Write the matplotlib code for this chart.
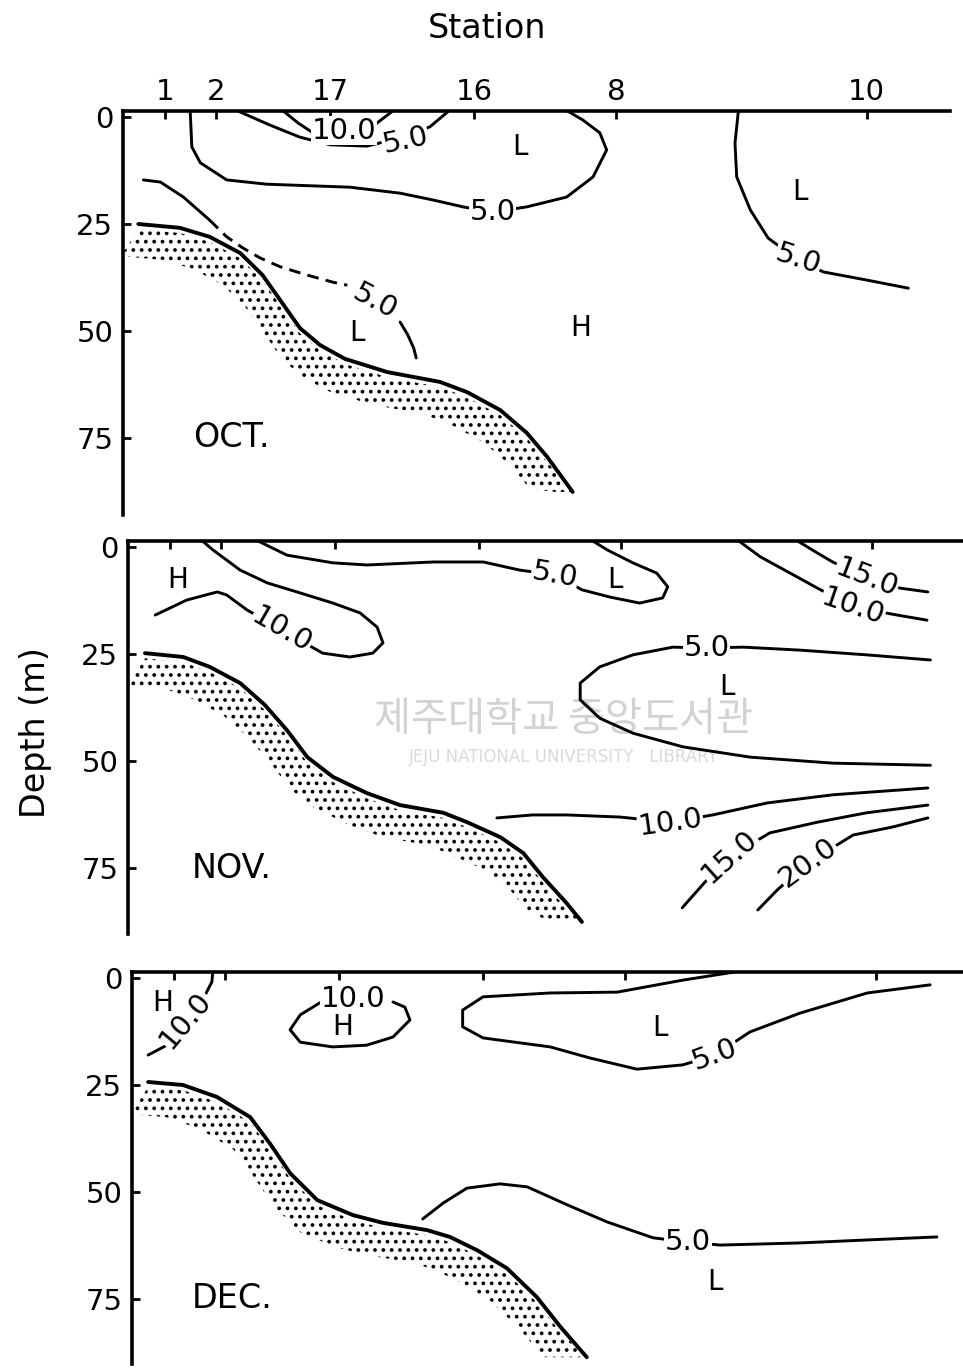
import numpy as np
import matplotlib
matplotlib.use('Agg')
from matplotlib import pyplot as plt

plt.rcParams['font.family'] = ['DejaVu Sans']
plt.rcParams['hatch.linewidth'] = 1.5

# station positions along the section (arbitrary distance units)
stations = ['1', '2', '17', '16', '8', '10']
station_x = [4.9, 10.9, 24.4, 41.3, 58.0, 87.5]
depth_ticks = [0, 25, 50, 75]
months = ['OCT.', 'NOV.', 'DEC.']

# sea bottom profiles (distance, depth m)
oct_bottom = [(1.8, 25.0), (6.7, 25.9), (10.2, 28.0), (13.8, 31.8), (16.4, 36.9),
              (18.5, 42.8), (20.8, 49.3), (23.2, 53.3), (26.1, 56.5), (31.1, 59.6),
              (37.3, 61.9), (40.5, 64.3), (44.4, 68.5), (47.5, 73.8), (49.9, 79.4),
              (52.9, 87.6)]
nov_bottom = [(2.0, 24.8), (6.5, 25.7), (9.6, 28.0), (13.2, 31.8), (16.1, 36.9),
              (18.7, 42.8), (21.1, 49.1), (24.1, 53.7), (28.1, 57.5), (32.0, 60.3),
              (37.1, 62.1), (39.9, 64.3), (43.8, 67.8), (46.5, 71.5), (48.8, 77.1),
              (51.6, 83.2), (53.4, 87.6)]
dec_bottom = [(1.9, 24.3), (6.0, 25.0), (10.0, 27.8), (13.9, 32.5), (16.2, 38.6),
              (18.6, 45.6), (21.8, 51.9), (26.0, 55.4), (29.5, 57.2), (34.7, 58.9),
              (37.4, 60.5), (40.6, 63.6), (44.1, 67.8), (47.6, 74.5), (50.4, 81.5),
              (53.5, 88.6)]

# isolines, October
oct_10a = [(18.8, -1.5), (20.6, 1.4), (22.2, 3.5), (26.0, 3.6), (29.1, 2.6), (31.6, -1.2)]
oct_5a = [(13.4, -1.5), (17.3, 1.9), (20.8, 4.7), (24.4, 6.5), (28.7, 6.8), (32.6, 4.9),
          (36.1, 2.3), (38.2, -1.2)]
oct_5b = [(7.9, -1.5), (8.1, 7.0), (9.1, 10.7), (12.2, 14.7), (16.9, 15.7), (26.7, 16.4),
          (32.6, 17.8), (36.5, 19.4), (40.0, 21.0), (43.5, 22.2), (47.5, 21.0), (52.2, 18.7),
          (55.3, 14.0), (56.9, 7.7), (56.1, 3.7), (54.1, 0.7), (52.2, -1.5)]
oct_5c = [(2.4, 14.7), (4.4, 15.2), (7.1, 18.7), (10.2, 24.1)]
oct_5c_dash = [(10.2, 24.1), (12.2, 28.0), (14.1, 30.6), (16.1, 32.9), (18.5, 35.0),
               (21.6, 36.9), (24.7, 38.6), (26.4, 39.3)]
oct_5c_end = [(32.6, 47.9), (33.5, 50.9), (34.2, 54.0), (34.5, 56.3)]
oct_5d = [(72.4, -1.5), (72.0, 6.1), (72.2, 14.0), (73.8, 21.7), (75.9, 28.3), (79.4, 33.4),
          (82.4, 36.2), (87.5, 38.1), (92.4, 40.0)]

# isolines, November
nov_10a = [(3.2, 15.9), (6.9, 12.4), (10.5, 10.5), (11.6, 11.2), (14.0, 14.7), (18.1, 19.4),
           (22.9, 24.8), (26.1, 25.7), (28.8, 24.8), (30.0, 22.4), (29.3, 18.7), (27.3, 15.4),
           (24.1, 13.1), (20.2, 10.7), (16.4, 8.4), (13.2, 5.4), (10.0, 0.7), (8.7, -1.5)]
nov_5a = [(15.2, -1.5), (18.7, 1.9), (24.1, 3.7), (28.1, 4.2), (35.9, 3.5), (41.8, 3.5),
          (46.1, 5.4), (50.2, 6.5), (53.4, 10.0), (56.7, 11.7), (60.2, 13.1), (62.9, 11.9),
          (63.5, 9.3), (62.2, 6.1), (59.4, 3.7), (56.4, 0.7), (54.6, -1.5)]
nov_15a = [(78.7, -1.5), (81.1, 1.4), (82.9, 3.5), (86.9, 7.2), (90.8, 9.6), (94.1, 10.5)]
nov_10b = [(71.8, -1.5), (74.4, 2.3), (77.9, 6.1), (81.1, 9.6), (85.3, 14.0), (90.5, 15.9),
           (94.0, 17.1)]
nov_5b = [(94.4, 26.4), (86.9, 25.2), (79.1, 24.1), (72.4, 23.4), (68.1, 23.6), (64.1, 23.4),
          (59.4, 25.2), (55.5, 28.0), (53.2, 31.8), (53.2, 35.7), (55.5, 40.0), (59.4, 43.5),
          (65.3, 46.7), (73.2, 49.1), (82.9, 50.5), (94.4, 51.0)]
nov_10c = [(43.4, 63.3), (47.6, 62.6), (51.6, 62.6), (57.9, 63.1), (63.8, 64.3), (68.8, 62.6),
           (75.2, 59.8), (82.9, 57.9), (94.1, 56.3)]
nov_15b = [(65.2, 84.3), (68.1, 77.8), (70.8, 72.4), (75.5, 66.8), (81.1, 64.3), (86.9, 62.1),
           (94.1, 60.3)]
nov_20a = [(74.1, 84.8), (76.4, 80.1), (80.0, 73.8), (85.3, 67.3), (90.0, 65.4), (94.1, 63.3)]

# isolines, December
dec_10a = [(1.9, 18.0), (4.1, 15.7), (6.5, 9.8), (8.6, 4.0), (9.4, 0.9), (9.5, -1.5)]
dec_10b = [(22.1, 5.8), (19.8, 8.6), (18.6, 12.1), (19.8, 15.0), (23.6, 16.1), (27.6, 15.7),
           (30.7, 13.8), (32.7, 9.8), (32.1, 6.8), (30.7, 5.6)]
dec_5a = [(71.2, -1.5), (64.8, 0.5), (57.1, 3.3), (49.2, 3.5), (41.3, 4.4), (38.9, 7.5),
          (38.9, 11.4), (41.3, 14.0), (49.2, 16.1), (53.9, 18.7), (59.4, 21.3), (64.8, 20.3),
          (68.6, 18.0), (72.7, 12.6), (78.6, 8.2), (86.5, 3.5), (93.9, 1.6)]
dec_5b = [(34.2, 56.3), (36.6, 52.6), (39.4, 49.1), (43.3, 48.1), (46.5, 48.8), (51.2, 53.0),
          (55.9, 57.0), (61.3, 60.7), (65.4, 61.7), (69.2, 62.4), (78.6, 61.9), (86.5, 61.2),
          (94.7, 60.5)]

# contour labels: (text, x, depth, rotation)
oct_labels = [('10.0', 26.0, 3.2, 0), ('5.0', 33.2, 5.4, 12), ('5.0', 43.5, 22.2, 0),
              ('5.0', 29.6, 43.2, -28), ('5.0', 79.4, 33.4, -18)]
nov_labels = [('10.0', 18.1, 19.4, -30), ('5.0', 50.2, 6.5, -10), ('15.0', 86.9, 7.2, -21),
              ('10.0', 85.3, 14.0, -19), ('5.0', 68.1, 23.6, 0), ('10.0', 63.8, 64.3, 8),
              ('15.0', 70.8, 72.4, 42), ('20.0', 80.0, 73.8, 36)]
dec_labels = [('10.0', 6.3, 9.8, 50), ('10.0', 26.0, 5.0, 0), ('5.0', 68.6, 18.0, 20),
              ('5.0', 65.4, 61.7, 0)]

# high / low marks: (letter, x, depth)
oct_marks = [('L', 46.7, 7.0), ('L', 79.6, 17.5), ('L', 27.5, 50.5), ('H', 53.8, 49.3)]
nov_marks = [('H', 5.8, 7.7), ('L', 57.3, 7.7), ('L', 70.5, 32.6)]
dec_marks = [('H', 3.6, 5.8), ('H', 24.8, 11.4), ('L', 62.1, 11.7), ('L', 68.6, 71.0)]

month_pos = [(12.8, 74.8), (12.2, 75.0), (11.8, 74.8)]

# page layout in pixels (scanned figure)
W, H = 963, 1370
sx, sy = 8.5, 4.28
left_px = [123, 128, 132]
zero_px = [117, 547, 978]
xmax = [97.3, 98.3, 97.8]
dmax = [93.0, 90.5, 90.2]
dtop = -1.5

bottoms = [oct_bottom, nov_bottom, dec_bottom]
lines = [[oct_10a, oct_5a, oct_5b, oct_5c, oct_5c_end, oct_5d],
         [nov_10a, nov_5a, nov_15a, nov_10b, nov_5b, nov_10c, nov_15b, nov_20a],
         [dec_10a, dec_10b, dec_5a, dec_5b]]
dashed = [[oct_5c_dash], [], []]
labels = [oct_labels, nov_labels, dec_labels]
marks = [oct_marks, nov_marks, dec_marks]

fig = plt.figure(figsize=(W / 100, H / 100), dpi=100)

fig.text(0.585, 1 - 720 / H, '제주대학교 중앙도서관', fontsize=29, color='#d2d2d2',
         family=['Noto Sans CJK KR', 'DejaVu Sans'], ha='center', va='center', zorder=-5)
fig.text(0.585, 1 - 757 / H, 'JEJU NATIONAL UNIVERSITY   LIBRARY', fontsize=12,
         color='#dadada', ha='center', va='center', zorder=-5)

for i in range(3):
    ax = fig.add_axes([left_px[i] / W, 1 - (zero_px[i] + dmax[i] * sy) / H,
                       xmax[i] * sx / W, (dmax[i] - dtop) * sy / H])
    ax.set_facecolor('none')
    ax.set_xlim(0, xmax[i])
    ax.set_ylim(dmax[i], dtop)

    # sea bottom with stippled band
    bx, bd = np.array(bottoms[i]).T
    ux, ud = bx, np.minimum(bd + 1.2, bd[-1])
    lx, ld = bx - 2.0, np.minimum(bd + 7.5, bd[-1])
    ax.fill(np.concatenate([ux, lx[::-1]]), np.concatenate([ud, ld[::-1]]),
            facecolor='none', edgecolor='black', linewidth=0, hatch='..')
    ax.plot(bx, bd, color='black', lw=2.8, solid_capstyle='round', solid_joinstyle='round')

    for ln in lines[i]:
        x, d = np.array(ln).T
        ax.plot(x, d, color='black', lw=2.1, solid_capstyle='round', solid_joinstyle='round')
    for ln in dashed[i]:
        x, d = np.array(ln).T
        ax.plot(x, d, color='black', lw=2.1, linestyle=(0, (4, 2.5)))

    for txt, x, d, rot in labels[i]:
        ax.text(x, d, txt, fontsize=21, rotation=rot, rotation_mode='anchor',
                ha='center', va='center', zorder=5,
                bbox=dict(facecolor='white', edgecolor='none', pad=0.5))
    for txt, x, d in marks[i]:
        ax.text(x, d, txt, fontsize=20, ha='center', va='center')

    ax.text(month_pos[i][0], month_pos[i][1], months[i], fontsize=24,
            ha='center', va='center')

    for s in ['bottom', 'right']:
        ax.spines[s].set_visible(False)
    for s in ['top', 'left']:
        ax.spines[s].set_linewidth(2.6)

    ax.xaxis.tick_top()
    ax.set_xticks(station_x)
    ax.set_xticklabels(stations if i == 0 else [])
    ax.set_yticks(depth_ticks)
    ax.set_yticklabels([str(t) for t in depth_ticks])
    ax.tick_params(axis='x', direction='in', length=6, width=2, labelsize=21, pad=3)
    ax.tick_params(axis='y', direction='in', length=6, width=2, labelsize=21, pad=7)

fig.text(487 / W, 1 - 28 / H, 'Station', fontsize=24, ha='center', va='center')
fig.text(35 / W, 1 - 733 / H, 'Depth (m)', fontsize=24, rotation=90,
         ha='center', va='center')

fig.savefig('out.png', dpi=100)
